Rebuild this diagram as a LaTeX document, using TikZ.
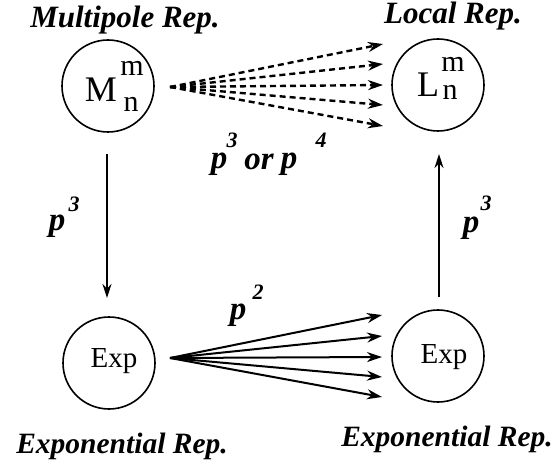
\documentclass[tikz,border=0pt]{standalone}
\usepackage{fontspec}
\setmainfont{Liberation Serif}
\usetikzlibrary{arrows.meta}
\begin{document}
\begin{tikzpicture}[x=1pt,y=-1pt,
  rep/.style={circle,draw,line width=1.6pt,minimum size=92pt,inner sep=0pt},
  lbl/.style={font=\fontsize{31}{33}\selectfont\bfseries\itshape,inner sep=0pt},
  pp/.style={font=\fontsize{33}{35}\selectfont\bfseries\itshape,inner sep=0pt},
  supl/.style={font=\fontsize{22}{24}\selectfont\bfseries\itshape,inner sep=0pt},
  big/.style={font=\fontsize{36}{38}\selectfont,inner sep=0pt},
  small/.style={font=\fontsize{30}{32}\selectfont,inner sep=0pt},
  expt/.style={font=\fontsize{29}{31}\selectfont,inner sep=0pt},
  dasharr/.style={dash pattern=on 6pt off 4pt,line width=2.4pt,-{Stealth[length=15pt,width=10pt]}},
  solarr/.style={line width=2pt,-{Stealth[length=15pt,width=10pt]}},
  vertarr/.style={line width=1.6pt,-{Stealth[length=14pt,width=9pt]}},
]
\useasboundingbox (0,0) rectangle (559,470);
% circles
\node[rep] (M) at (108,86) {};
\node[rep] (L) at (438,85) {};
\node[rep] (E1) at (109,363) {};
\node[rep] (E2) at (438,356) {};
% circle texts
\node[big] (Mt) at (101,90) {M};
\node[small] (Mm) at (132,68) {m};
\node[small] (Mn) at (131,104) {n};
\node[big] (Lt) at (428,85) {L};
\node[small] (Lm) at (453,64) {m};
\node[small] (Ln) at (450,92) {n};
\node[expt] (E1t) at (114,361) {Exp};
\node[expt] (E2t) at (444,357) {Exp};
% titles
\node[lbl] (tM) at (125,20) {Multipole Rep.};
\node[lbl] (tL) at (453,16) {Local Rep.};
\node[lbl,font=\fontsize{29.5}{31}\selectfont\bfseries\itshape] (tE1) at (122,446) {Exponential Rep.};
\node[lbl,font=\fontsize{29.5}{31}\selectfont\bfseries\itshape] (tE2) at (447,439) {Exponential Rep.};
% dashed fan
\coordinate (mo) at (170,87);
\coordinate (d1) at (383,44);
\coordinate (d2) at (383,64);
\coordinate (d3) at (383,85);
\coordinate (d4) at (383,105);
\coordinate (d5) at (383,126);
\foreach \t in {d1,d2,d3,d4,d5} \draw[dasharr] (mo) -- (\t);
% solid fan
\coordinate (eo) at (170,358);
\coordinate (s1) at (382,315);
\coordinate (s2) at (382,336);
\coordinate (s3) at (382,357);
\coordinate (s4) at (382,377);
\coordinate (s5) at (382,397);
\foreach \t in {s1,s2,s3,s4,s5} \draw[solarr] (eo) -- (\t);
% vertical arrows
\coordinate (v1a) at (107,154);
\coordinate (v1b) at (107,298);
\draw[vertarr] (v1a) -- (v1b);
\coordinate (v2a) at (439,297);
\coordinate (v2b) at (439,154);
\draw[vertarr] (v2a) -- (v2b);
% labels p
\node[pp] (pL) at (57,226) {p};
\node[supl] (pL3) at (74,204) {3};
\node[pp] (pR) at (471,228) {p};
\node[supl] (pR3) at (486,203) {3};
\node[pp] (pa) at (219,164) {p};
\node[supl] (pa3) at (232,140) {3};
\node[pp] (por) at (259,162) {or};
\node[pp] (pb) at (289,164) {p};
\node[supl] (pb4) at (321,140) {4};
\node[pp] (p2) at (238,315) {p};
\node[supl] (p22) at (258,292) {2};
\end{tikzpicture}
\end{document}
